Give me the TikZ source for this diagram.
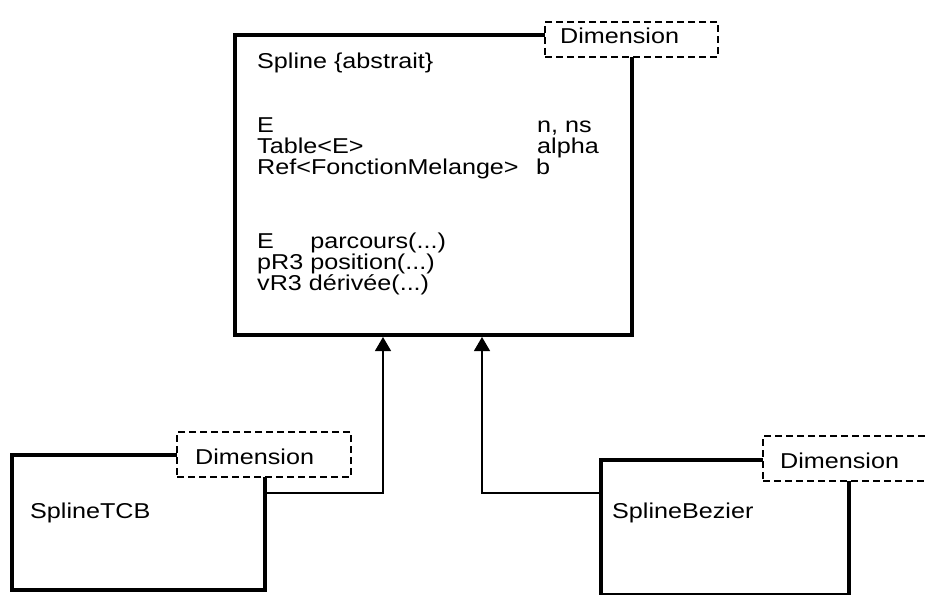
\documentclass[tikz,border=0pt]{standalone}
\usepackage{fontspec}
\setmainfont{Liberation Sans}[FakeStretch=1.17]
\usetikzlibrary{arrows.meta,positioning,calc}

\begin{document}
\begin{tikzpicture}[
  x=1pt, y=-1pt,
  cls/.style={draw, line width=4pt, fill=white, anchor=north west, outer sep=0pt, inner sep=0pt},
  tag/.style={draw, dash pattern=on 7pt off 4pt, line width=1.3pt, fill=white, anchor=north west, outer sep=0pt, inner sep=0pt},
  txt/.style={anchor=base west, inner sep=0pt, font=\fontsize{21.5}{21.5}\selectfont},
  inh/.style={-{Triangle[width=16pt,length=14pt]}, line width=1.2pt, shorten >=2pt}
]
\useasboundingbox (0,0) rectangle (925,594);
\clip (0,0) rectangle (925,594);

% classes
\node[cls, minimum width=397pt, minimum height=300pt] (spline) at (235,35) {};
\node[cls, minimum width=253pt, minimum height=135pt] (tcb) at (12,455) {};
\node[cls, minimum width=248pt, minimum height=135pt] (bez) at (601,460) {};

% inheritance
\coordinate (jtcb) at (383,493);
\coordinate (jbez) at (482,493);
\draw[inh] (tcb.east |- jtcb) -| (spline.south -| jtcb);
\draw[inh] (bez.west |- jbez) -| (spline.south -| jbez);

% template parameters
\node[tag, minimum width=173pt, minimum height=35pt] (dimspline) at (545,22) {};
\node[tag, minimum width=174pt, minimum height=45pt] (dimtcb) at (177,432) {};
\node[tag, minimum width=174pt, minimum height=45pt] (dimbez) at (763,436) {};
\node[txt] (dimsplinetxt) at (560,44) {Dimension};
\node[txt] (dimtcbtxt) at (195,464) {Dimension};
\node[txt] (dimbeztxt) at (780,468) {Dimension};

% Spline contents
\node[txt] (title) at (257,68) {Spline \{abstrait\}};
\node[txt] (attr1) at (257,132) {E};
\node[txt] (attr2) at (257,153) {Table<E>};
\node[txt] (attr3) at (257,174) {Ref<FonctionMelange>};
\node[txt] (mult1) at (537,132) {n, ns};
\node[txt] (mult2) at (537,153) {alpha};
\node[txt] (mult3) at (536,174) {b};
\node[txt] (op1) at (257,248) {\rlap{E}\hphantom{pR3} parcours(...)};
\node[txt] (op2) at (257,269) {pR3 position(...)};
\node[txt] (op3) at (257,290) {vR3 dérivée(...)};

% subclasses
\node[txt] (tcbname) at (30,518) {SplineTCB};
\node[txt] (bezname) at (612,518) {SplineBezier};
\end{tikzpicture}
\end{document}
